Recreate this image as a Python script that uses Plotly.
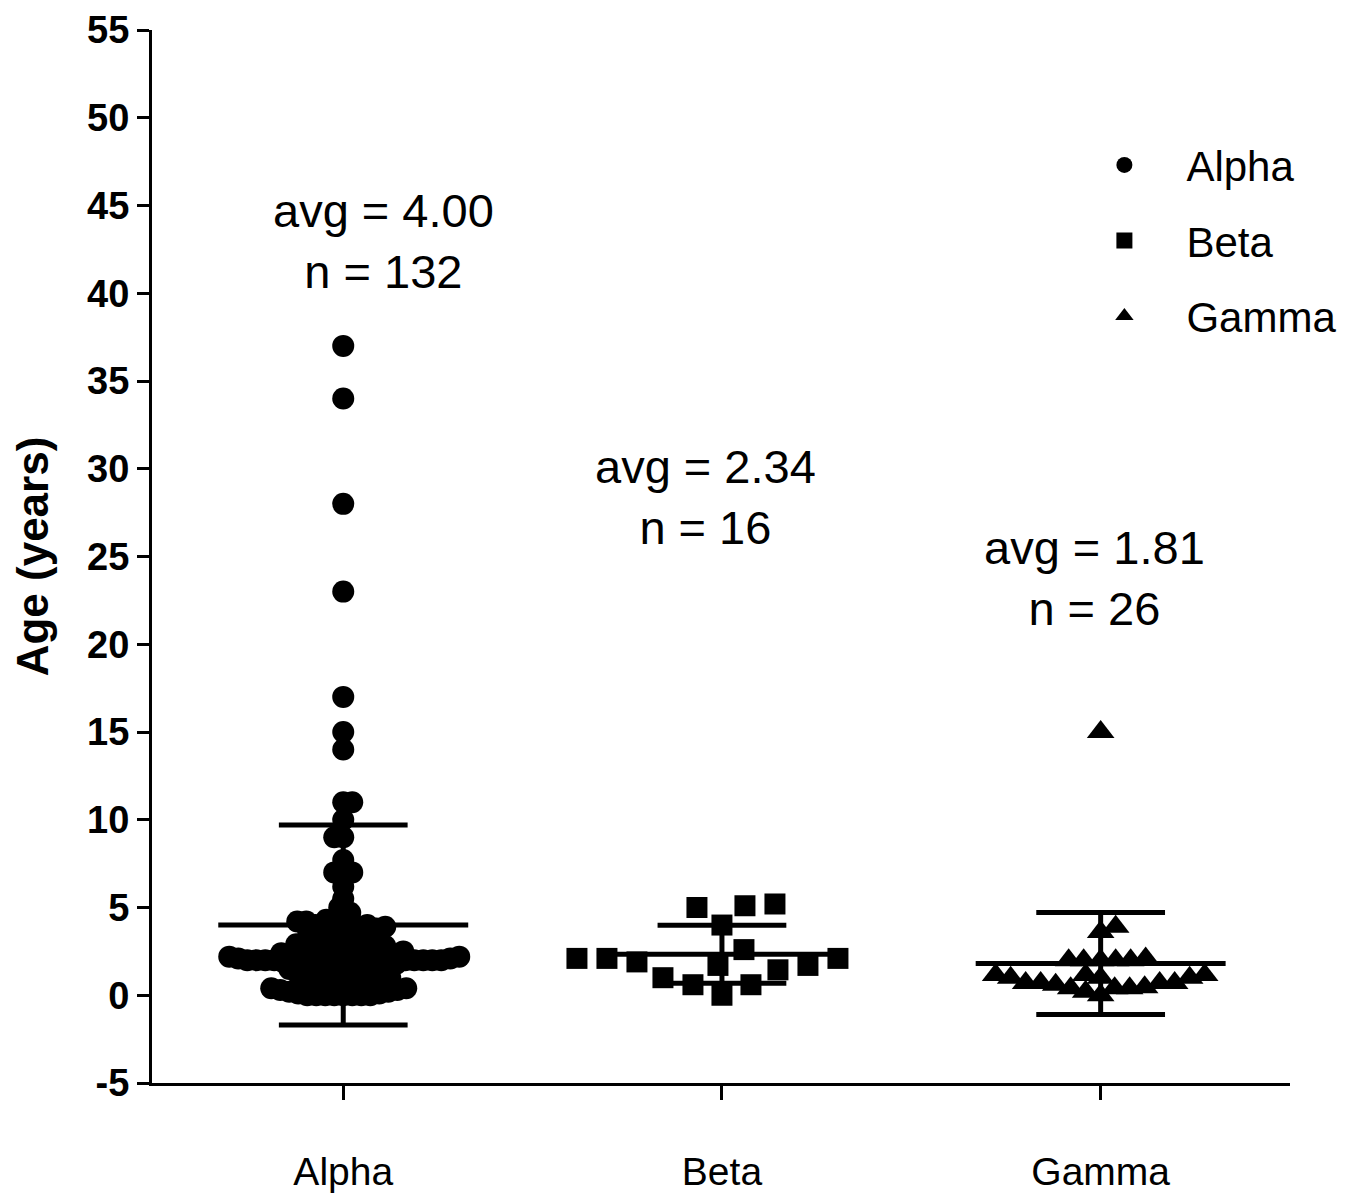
import plotly.graph_objects as go

# ---------------- data ----------------
categories = ["Alpha", "Beta", "Gamma"]

alpha_age = [
    37, 34, 28, 23, 17, 15, 14,
    11, 11, 10, 9, 9, 7.7, 7, 7, 6.8, 6.2, 5.5, 5.0, 4.7, 4.5,
    4.3, 4.2, 4.2, 4.1, 4.0, 4.0, 4.0, 4.0, 3.9, 3.8, 3.8, 3.7, 3.6, 3.5, 3.5, 3.5,
    3.4, 3.3, 3.2, 3.1, 3.0, 3.0, 3.0, 2.9, 2.8, 2.8, 2.7, 2.7, 2.6, 2.6, 2.5, 2.5, 2.5, 2.5,
    2.4, 2.4, 2.3, 2.3, 2.3, 2.2, 2.2, 2.2, 2.2, 2.1, 2.1, 2.1, 2.1,
    2.0, 2.0, 2.0, 2.0, 2.0, 2.0, 2.0, 2.0, 2.0, 2.0, 2.0, 2.0, 2.0,
    1.9, 1.9, 1.8, 1.8, 1.8, 1.7, 1.7, 1.6, 1.6, 1.5, 1.5, 1.5, 1.5, 1.5,
    1.4, 1.3, 1.3, 1.2, 1.2, 1.1, 1.1, 1.0, 1.0, 1.0, 1.0,
    0.9, 0.8, 0.8, 0.7, 0.7, 0.6, 0.6, 0.5, 0.5, 0.5, 0.4, 0.4, 0.3, 0.3,
    0.2, 0.2, 0.1, 0.1, 0.0, 0.0, 0.0, 0.0, 0.0, 0.0, 0.0, 0.0,
]
beta_age = [5.2, 5.0, 5.1, 4.0, 2.6, 2.1, 1.45, 1.7, 1.0, 1.7, 2.1, 2.1, 1.9, 0.6, 0.6, 0.0]
gamma_age = [15, 3.9, 3.6, 2.1, 2.0, 2.0, 2.0, 2.0, 2.0, 1.15, 1.0, 1.0, 1.15, 1.0, 1.15,
             0.7, 0.7, 0.7, 0.7, 0.6, 0.45, 0.4, 0.4, 0.4, 0.2, 0.0]

group_avg = [4.00, 2.34, 1.81]
group_sd = [5.7, 1.65, 2.9]
group_n = [132, 16, 26]

y_ticks = [-5, 0, 5, 10, 15, 20, 25, 30, 35, 40, 45, 50, 55]

# ---------------- layout constants ----------------
# the page body has an 8px margin, so the figure is sized to fit the window
W, H = 1339, 1191
M_L, M_R, M_T, M_B = 144, 57, 22, 116
X_RANGE = [-0.505, 2.5]
Y_RANGE = [-5, 55]
PX_X = (W - M_L - M_R) / (X_RANGE[1] - X_RANGE[0])
PX_Y = (H - M_T - M_B) / (Y_RANGE[1] - Y_RANGE[0])
FONT = "Arial, 'Liberation Sans', sans-serif"

symbols = ["circle", "square", "triangle-up"]
sizes = [22, 21, 24]
swarm_dist = [9, 30, 15]
mean_half = 0.33
cap_half = 0.17
label_dx = [0.105, -0.043, -0.015]
label_y = [43.0, 28.4, 23.8]


def swarm(values, min_dist, step=1.0):
    """Simple beeswarm: returns x offsets (data units) so markers don't overlap more than allowed."""
    order = sorted(range(len(values)), key=lambda i: values[i])
    placed = []
    offs = [0.0] * len(values)
    for n, i in enumerate(order):
        yp = values[i] * PX_Y
        k = 0
        found = None
        while found is None:
            if k == 0:
                cands = [0.0]
            else:
                cands = [k * step, -k * step] if n % 2 == 0 else [-k * step, k * step]
            for c in cands:
                if all((c - px) ** 2 + (yp - py) ** 2 >= min_dist ** 2 for px, py in placed):
                    found = c
                    break
            k += 1
        placed.append((found, yp))
        offs[i] = found / PX_X
    return offs


groups = [alpha_age, beta_age, gamma_age]
fig = go.Figure()

for gi, (name, vals) in enumerate(zip(categories, groups)):
    offs = swarm(vals, swarm_dist[gi])
    fig.add_trace(go.Scatter(
        x=[gi + o for o in offs], y=vals, mode="markers", name=name,
        legendgroup=name,
        marker=dict(symbol=symbols[gi], size=sizes[gi], color="black", line=dict(width=0)),
        hoverinfo="y",
    ))

for gi in range(3):
    m, s = group_avg[gi], group_sd[gi]
    xs = [gi - mean_half, gi + mean_half, None,
          gi - cap_half, gi + cap_half, None,
          gi - cap_half, gi + cap_half, None,
          gi, gi]
    ys = [m, m, None, m + s, m + s, None, m - s, m - s, None, m + s, m - s]
    fig.add_trace(go.Scatter(x=xs, y=ys, mode="lines", showlegend=False,
                             line=dict(color="black", width=5), hoverinfo="skip"))

for gi in range(3):
    fig.add_annotation(
        x=gi + label_dx[gi], y=label_y[gi], xref="x", yref="y",
        text=f"avg = {group_avg[gi]:.2f}<br>n = {group_n[gi]}",
        showarrow=False, font=dict(family=FONT, size=47, color="black"),
        align="center",
    )

fig.update_layout(
    width=W, height=H,
    margin=dict(l=M_L, r=M_R, t=M_T, b=M_B, autoexpand=False),
    plot_bgcolor="white", paper_bgcolor="white",
    font=dict(family=FONT, color="black"),
    legend=dict(x=0.80, y=0.904, xanchor="left", yanchor="top",
                font=dict(family=FONT, size=42, color="black"),
                bgcolor="rgba(0,0,0,0)", itemwidth=114, tracegroupgap=18),
    xaxis=dict(range=X_RANGE, tickvals=[0, 1, 2], ticktext=categories,
               showline=True, linecolor="black", linewidth=3,
               ticks="outside", ticklen=14, tickwidth=3, tickcolor="black",
               tickfont=dict(family=FONT, size=39, color="black"),
               ticklabelstandoff=38, automargin=False,
               showgrid=False, zeroline=False),
    yaxis=dict(range=Y_RANGE, tickvals=y_ticks, ticktext=[str(v) for v in y_ticks],
               showline=True, linecolor="black", linewidth=3,
               ticks="outside", ticklen=12, tickwidth=3, tickcolor="black",
               tickfont=dict(family=FONT, size=38, color="black", weight="bold"),
               title=dict(text="Age (years)", standoff=30,
                          font=dict(family=FONT, size=44, color="black", weight="bold")),
               automargin=False,
               showgrid=False, zeroline=False),
)

fig.write_html("out.html")
